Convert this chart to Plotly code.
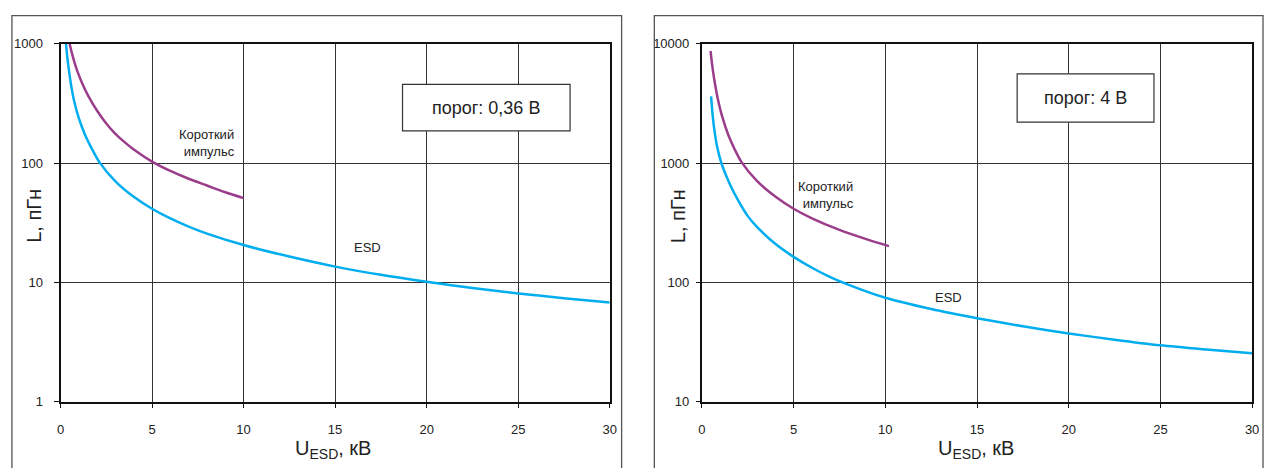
import plotly.graph_objects as go

# ---------------- data ----------------
# Left panel: threshold 0.36 V
left_esd_u = [0.3, 0.38, 0.47, 0.6, 0.76, 1, 1.33, 1.7, 2.14, 3, 4, 5, 6, 7, 8, 10,
              12.5, 15, 17.5, 20, 22.5, 25, 27.5, 30]
left_esd_l = [1000, 750, 585, 431, 324, 238, 174, 133, 101, 70.5, 52.3, 41.5, 34.4, 29.4, 25.7, 20.6,
              16.5, 13.6, 11.6, 10.15, 9.0, 8.1, 7.4, 6.8]
left_pulse_u = [0.5, 0.6, 0.75, 0.92, 1.2, 1.5, 2, 2.5, 3, 3.5, 4, 5, 6, 7, 8, 9, 10]
left_pulse_l = [1000, 860, 710, 590, 460, 370, 275, 215, 176, 150, 130, 103, 86, 74, 65, 57, 51]

# Right panel: threshold 4 V
right_esd_u = [0.5, 0.55, 0.6, 0.7, 0.8, 0.95, 1.1, 1.5, 2, 2.5, 3, 4, 5, 6, 7, 7.9, 10,
               12.5, 15, 17.5, 20, 22.5, 25, 27.5, 30]
right_esd_l = [3625, 2900, 2400, 1800, 1450, 1150, 960, 680, 480, 360, 293, 211, 164, 133, 111, 97, 74.5,
               60, 50.3, 43, 37.5, 33.2, 29.8, 27.5, 25.6]
right_pulse_u = [0.47, 0.55, 0.65, 0.8, 0.92, 1.1, 1.44, 1.8, 2.16, 3, 4, 5, 6, 7.5, 9, 10.2]
right_pulse_l = [8700, 6820, 5290, 3890, 3180, 2475, 1720, 1293, 1020, 710, 525, 415, 345, 276, 230, 202]

x_ticks = [0, 5, 10, 15, 20, 25, 30]
left_y_ticks = [1, 10, 100, 1000]
right_y_ticks = [10, 100, 1000, 10000]

left_box_text = "порог: 0,36 В"
right_box_text = "порог: 4 В"
pulse_label = "Короткий<br>импульс"
esd_label = "ESD"
y_title = "L, пГн"
x_title = "U<sub>ESD</sub>, кВ"

# ---------------- styling ----------------
W, H = 1272, 468
BLUE = "#00aeef"
PURPLE = "#9b3d8b"
FONT = "Liberation Sans, Arial, sans-serif"


def px(x):
    return x / W


def py(y):
    return 1 - y / H


fig = go.Figure()

line_kw = dict(width=2.5, shape="spline", smoothing=0.8)
fig.add_trace(go.Scatter(x=left_esd_u, y=left_esd_l, mode="lines", line=dict(color=BLUE, **line_kw),
                         xaxis="x", yaxis="y", showlegend=False, hoverinfo="skip"))
fig.add_trace(go.Scatter(x=left_pulse_u, y=left_pulse_l, mode="lines", line=dict(color=PURPLE, **line_kw),
                         xaxis="x", yaxis="y", showlegend=False, hoverinfo="skip"))
fig.add_trace(go.Scatter(x=right_esd_u, y=right_esd_l, mode="lines", line=dict(color=BLUE, **line_kw),
                         xaxis="x2", yaxis="y2", showlegend=False, hoverinfo="skip"))
fig.add_trace(go.Scatter(x=right_pulse_u, y=right_pulse_l, mode="lines", line=dict(color=PURPLE, **line_kw),
                         xaxis="x2", yaxis="y2", showlegend=False, hoverinfo="skip"))

ydom = [py(408), py(38)]

common_x = dict(range=[0, 30], tickvals=x_ticks, ticktext=[str(v) for v in x_ticks],
                showgrid=True, gridcolor="#333333", gridwidth=1,
                showline=True, linecolor="#111111", linewidth=2, mirror=True,
                ticks="outside", ticklen=4, tickcolor="#111111", tickwidth=1,
                ticklabelstandoff=10, zeroline=False,
                tickfont=dict(family=FONT, size=13, color="#222222"))
common_y = dict(type="log", showgrid=True, gridcolor="#333333", gridwidth=1,
                showline=True, linecolor="#111111", linewidth=2, mirror=True,
                ticks="outside", tickcolor="#111111", tickwidth=1, zeroline=False,
                tickfont=dict(family=FONT, size=13, color="#222222"))

fig.update_layout(
    width=W, height=H, autosize=False,
    margin=dict(l=0, r=0, t=0, b=0, pad=0),
    paper_bgcolor="white", plot_bgcolor="white",
    font=dict(family=FONT, color="#222222"),
    xaxis=dict(domain=[px(57), px(611)], anchor="y", **common_x),
    yaxis=dict(domain=ydom, anchor="x", range=[0, 3], tickvals=left_y_ticks,
               ticktext=[str(v) for v in left_y_ticks], ticklen=5, ticklabelstandoff=8, **common_y),
    xaxis2=dict(domain=[px(704), px(1259)], anchor="y2", **common_x),
    yaxis2=dict(domain=ydom, anchor="x2", range=[1, 4], tickvals=right_y_ticks,
                ticktext=[str(v) for v in right_y_ticks], ticklen=4, ticklabelstandoff=4, **common_y),
)

shapes = []
# panel frames
for x0, x1 in [(8, 623), (656, 1270)]:
    shapes.append(dict(type="rect", xref="paper", yref="paper", x0=px(x0), x1=px(x1), y0=-0.1, y1=py(9),
                       line=dict(color="#555555", width=1.3), fillcolor="rgba(0,0,0,0)", layer="above"))
# threshold boxes
for x0, x1, y0, y1 in [(402, 571, 80, 128), (1022, 1160, 69, 119)]:
    shapes.append(dict(type="rect", xref="paper", yref="paper", x0=px(x0), x1=px(x1), y0=py(y1), y1=py(y0),
                       line=dict(color="#333333", width=1.2), fillcolor="white", layer="above"))
fig.update_layout(shapes=shapes)

ann = []
ann.append(dict(x=px(486), y=py(104), text=left_box_text, font=dict(size=18, color="#222222")))
ann.append(dict(x=px(1091), y=py(94), text=right_box_text, font=dict(size=18, color="#222222")))
ann.append(dict(x=px(235), y=py(140), text=pulse_label, xanchor="right", align="right",
                font=dict(size=13, color="#222222")))
ann.append(dict(x=px(859), y=py(194), text=pulse_label, xanchor="right", align="right",
                font=dict(size=13, color="#222222")))
ann.append(dict(x=px(367), y=py(248), text=esd_label, font=dict(size=13, color="#222222")))
ann.append(dict(x=px(953), y=py(300), text=esd_label, font=dict(size=13, color="#222222")))
ann.append(dict(x=px(30), y=py(216), text=y_title, textangle=-90, font=dict(size=20, color="#222222")))
ann.append(dict(x=px(680), y=py(216), text=y_title, textangle=-90, font=dict(size=20, color="#222222")))
ann.append(dict(x=px(332), y=py(457), text=x_title, font=dict(size=20, color="#222222")))
ann.append(dict(x=px(980), y=py(457), text=x_title, font=dict(size=20, color="#222222")))

for a in ann:
    a.setdefault("xanchor", "center")
    a.setdefault("yanchor", "middle")
    a.update(xref="paper", yref="paper", showarrow=False)
    a["font"]["family"] = FONT
fig.update_layout(annotations=ann)

fig.write_html(
    "out.html",
    config={"responsive": False, "displayModeBar": False},
    post_script="document.body.style.margin='0';document.body.style.padding='0';"
                "document.body.style.overflow='hidden';",
)
